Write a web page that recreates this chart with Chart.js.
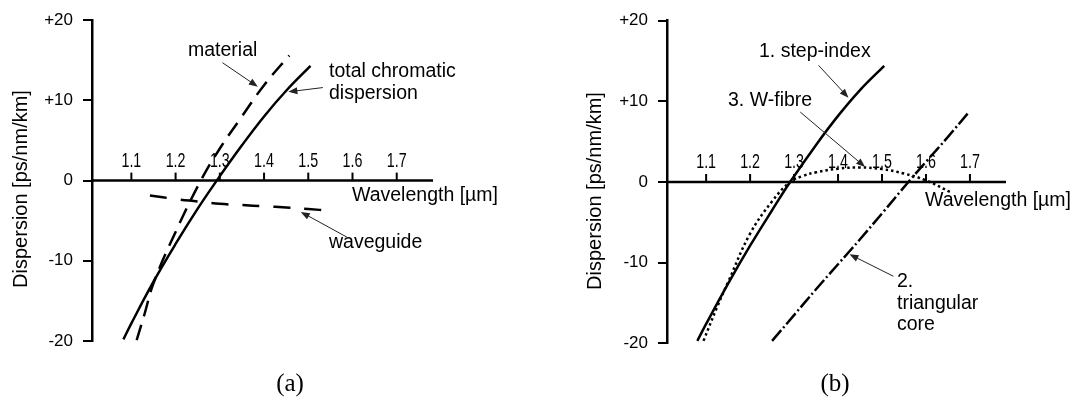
<!DOCTYPE html>
<html>
<head>
<meta charset="utf-8">
<script src="https://cdn.jsdelivr.net/npm/chart.js@4.4.1/dist/chart.umd.min.js"></script>
<style>
  body { margin: 0; background: #fff; }
  canvas { position: absolute; top: 0; }
  #chartA { left: 0; }
  #chartB { left: 540px; }
</style>
</head>
<body>
<canvas id="chartA" width="540" height="412"></canvas>
<canvas id="chartB" width="538" height="412"></canvas>
<script>
// wavelength in µm, dispersion in ps/nm/km
const wavelengthTicks = [1.1, 1.2, 1.3, 1.4, 1.5, 1.6, 1.7];
const dispersionTicks = [-20, -10, 0, 10, 20];
const dispersionTickLabels = ['-20', '-10', '0', '+10', '+20'];

// (a) material + waveguide = total chromatic dispersion
const totalWl     = [1.082, 1.10, 1.15, 1.20, 1.25, 1.293, 1.35, 1.40, 1.45, 1.505];
const totalD      = [-19.8, -17.8, -12.6, -7.9, -3.5, 0, 4.4, 8.0, 11.2, 14.3];
const materialWl  = [1.112, 1.13, 1.15, 1.20, 1.257, 1.30, 1.35, 1.40, 1.457];
const materialD   = [-19.9, -16.6, -12.8, -6.4, 0, 4.0, 8.0, 11.9, 15.6];
const waveguideWl = [1.142, 1.20, 1.25, 1.30, 1.35, 1.40, 1.45, 1.50, 1.551];
const waveguideD  = [-1.85, -2.3, -2.6, -2.9, -3.05, -3.2, -3.35, -3.55, -3.75];

// (b) step-index, triangular core and W-fibre profiles
const stepWl       = [1.080, 1.10, 1.15, 1.20, 1.25, 1.291, 1.35, 1.40, 1.45, 1.505];
const stepD        = [-19.7, -17.6, -12.6, -7.9, -3.5, 0, 4.6, 8.2, 11.4, 14.4];
const triangularWl = [1.25, 1.30, 1.35, 1.40, 1.45, 1.50, 1.56, 1.60, 1.65, 1.698];
const triangularD  = [-19.7, -16.5, -13.3, -10.2, -7.1, -3.9, 0, 2.5, 5.6, 8.7];
const wFibreWl     = [1.094, 1.125, 1.15, 1.20, 1.25, 1.291, 1.32, 1.35, 1.40, 1.45, 1.50, 1.55, 1.60, 1.657];
const wFibreD      = [-19.7, -15.5, -12.4, -6.4, -2.4, 0, 0.75, 1.2, 1.65, 1.8, 1.6, 1.05, 0.2, -1.3];

const TEXT_FONT = '"Liberation Sans", Arial, sans-serif';

function toPoints(xs, ys) {
    return xs.map((x, i) => ({ x: x, y: ys[i] }));
}

function curve(xs, ys, dash) {
    return {
        data: toPoints(xs, ys),
        borderColor: '#000',
        borderWidth: 2.5,
        borderDash: dash,
        pointRadius: 0,
        fill: false,
        tension: 0.4,
    };
}

function drawArrow(ctx, x1, y1, x2, y2) {
    const ang = Math.atan2(y2 - y1, x2 - x1);
    ctx.strokeStyle = '#222';
    ctx.fillStyle = '#222';
    ctx.lineWidth = 1;
    ctx.beginPath();
    ctx.moveTo(x1, y1);
    ctx.lineTo(x2 - 6 * Math.cos(ang), y2 - 6 * Math.sin(ang));
    ctx.stroke();
    ctx.beginPath();
    ctx.moveTo(x2, y2);
    ctx.lineTo(x2 - 9 * Math.cos(ang) + 3.5 * Math.sin(ang), y2 - 9 * Math.sin(ang) - 3.5 * Math.cos(ang));
    ctx.lineTo(x2 - 9 * Math.cos(ang) - 3.5 * Math.sin(ang), y2 - 9 * Math.sin(ang) + 3.5 * Math.cos(ang));
    ctx.closePath();
    ctx.fill();
}

// wavelength axis sits on D = 0 with ticks and labels above it, plus the annotations
const axisPlugin = {
    id: 'wavelengthAxis',
    afterDraw(chart, args, opts) {
        const { ctx, chartArea, scales: { x, y } } = chart;
        const y0 = y.getPixelForValue(0);
        ctx.save();
        ctx.strokeStyle = '#000';
        ctx.fillStyle = '#000';
        ctx.lineWidth = 2.5;
        ctx.beginPath();
        ctx.moveTo(chartArea.left, y0);
        ctx.lineTo(chartArea.right, y0);
        ctx.stroke();

        ctx.lineWidth = 2;
        ctx.font = '21px ' + TEXT_FONT;
        ctx.textAlign = 'center';
        ctx.textBaseline = 'alphabetic';
        wavelengthTicks.forEach(w => {
            const px = x.getPixelForValue(w);
            ctx.beginPath();
            ctx.moveTo(px, y0);
            ctx.lineTo(px, y0 - 8);
            ctx.stroke();
            ctx.save();
            ctx.translate(px, y0 - 14);
            ctx.scale(0.68, 1);
            ctx.fillText(w.toFixed(1), 0, 0);
            ctx.restore();
        });

        // rotated axis title
        ctx.save();
        ctx.font = '20px ' + TEXT_FONT;
        ctx.translate(opts.title.x, opts.title.y);
        ctx.rotate(-Math.PI / 2);
        ctx.textBaseline = 'middle';
        ctx.fillText('Dispersion [ps/nm/km]', 0, 0);
        ctx.restore();

        ctx.font = '19.5px ' + TEXT_FONT;
        ctx.textAlign = 'left';
        opts.labels.forEach(l => ctx.fillText(l.text, l.x, l.y));

        opts.arrows.forEach(a => {
            drawArrow(ctx,
                x.getPixelForValue(a.from[0]), y.getPixelForValue(a.from[1]),
                x.getPixelForValue(a.to[0]), y.getPixelForValue(a.to[1]));
        });

        ctx.fillStyle = '#000';
        ctx.font = '25px "Liberation Serif", "Times New Roman", serif';
        ctx.textAlign = 'center';
        ctx.textBaseline = 'middle';
        ctx.fillText(opts.caption.text, opts.caption.x, opts.caption.y);
        ctx.restore();
    }
};

function makeChart(id, datasets, axisWidth, padding, notes) {
    return new Chart(document.getElementById(id), {
        type: 'line',
        data: { datasets: datasets },
        plugins: [axisPlugin],
        options: {
            responsive: false,
            animation: false,
            layout: { padding: padding },
            plugins: {
                legend: { display: false },
                tooltip: { enabled: false },
                wavelengthAxis: notes,
            },
            scales: {
                x: { type: 'linear', min: 1.011, max: 1.782, display: false },
                y: {
                    type: 'linear',
                    min: -20,
                    max: 20,
                    afterFit: scale => { scale.width = axisWidth; },
                    afterBuildTicks: scale => {
                        scale.ticks = dispersionTicks.map(v => ({ value: v }));
                    },
                    ticks: {
                        color: '#000',
                        padding: 10,
                        font: { family: TEXT_FONT, size: 17 },
                        callback: value => dispersionTickLabels[dispersionTicks.indexOf(value)],
                    },
                    grid: {
                        drawOnChartArea: false,
                        drawTicks: true,
                        tickLength: 9,
                        color: '#000',
                        lineWidth: 2,
                    },
                    border: { display: true, color: '#000', width: 2.5 },
                },
            },
        },
    });
}

makeChart('chartA', [
    curve(totalWl, totalD, []),
    curve(materialWl, materialD, [16, 9]),
    curve(waveguideWl, waveguideD, [17, 14]),
], 92, { left: 0, right: 107, top: 17, bottom: 71 }, {
    title: { x: 21, y: 189 },
    caption: { text: '(a)', x: 290, y: 384 },
    labels: [
        { text: 'material', x: 188, y: 56 },
        { text: 'total chromatic', x: 329, y: 77 },
        { text: 'dispersion', x: 329, y: 99 },
        { text: 'waveguide', x: 329, y: 248 },
        { text: 'Wavelength [µm]', x: 352, y: 201 },
    ],
    arrows: [
        { from: [1.306, 14.7], to: [1.386, 11.7] },
        { from: [1.533, 11.6], to: [1.455, 11.07] },
        { from: [1.587, -7.04], to: [1.483, -3.9] },
    ],
});

makeChart('chartB', [
    curve(stepWl, stepD, []),
    curve(triangularWl, triangularD, [14, 3, 2, 3]),
    curve(wFibreWl, wFibreD, [2.5, 3]),
], 127, { left: 0, right: 72, top: 20.7, bottom: 68.7 }, {
    title: { x: 55, y: 191 },
    caption: { text: '(b)', x: 295, y: 384 },
    labels: [
        { text: '1. step-index', x: 219, y: 57 },
        { text: '3. W-fibre', x: 188, y: 106 },
        { text: '2.', x: 357, y: 287 },
        { text: 'triangular', x: 357, y: 308.5 },
        { text: 'core', x: 357, y: 330 },
        { text: 'Wavelength [µm]', x: 385, y: 206 },
    ],
    arrows: [
        { from: [1.3556, 14.46], to: [1.4237, 10.46] },
        { from: [1.3141, 8.67], to: [1.4616, 1.86] },
        { from: [1.5259, -11.69], to: [1.426, -8.96] },
    ],
});
</script>
</body>
</html>
